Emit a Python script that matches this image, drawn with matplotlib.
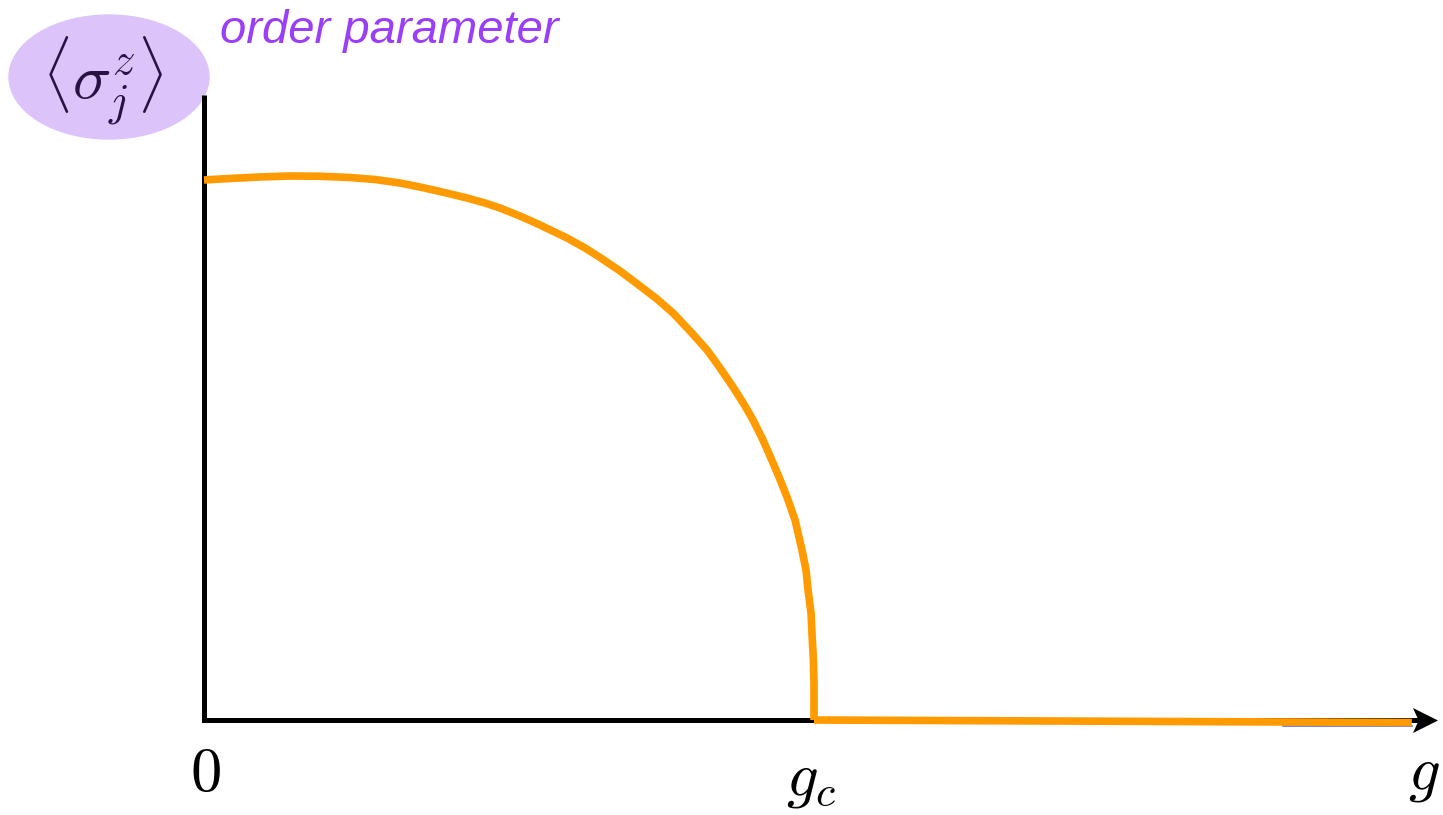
import numpy as np
import matplotlib
matplotlib.use('Agg')
import matplotlib.pyplot as plt
from matplotlib.patches import Ellipse
from matplotlib.path import Path

plt.rcParams['mathtext.fontset'] = 'cm'

# order parameter vs coupling g (g in units of g_c, <sigma_j^z> normalised to 1 at g = 0)
g_ordered = [0.0, 0.0426, 0.0918, 0.1410, 0.1902, 0.2393, 0.2803, 0.3213, 0.3541,
             0.3869, 0.4311, 0.4607, 0.4852, 0.5180, 0.5508, 0.5951, 0.6246, 0.6492,
             0.6820, 0.7148, 0.7426, 0.7689, 0.7967, 0.8246, 0.8459, 0.8672, 0.8869,
             0.9000, 0.9148, 0.9279, 0.9426, 0.9557, 0.9689, 0.9803, 0.9869, 0.9902,
             0.9951, 0.997, 0.999, 1.0, 1.0, 1.0]
m_ordered = [1.0, 1.0028, 1.0056, 1.0074, 1.0069, 1.0046, 1.0009, 0.9944, 0.9870,
             0.9787, 0.9667, 0.9574, 0.9481, 0.9333, 0.9167, 0.8926, 0.8741, 0.8565,
             0.8315, 0.8037, 0.7796, 0.7537, 0.7204, 0.6852, 0.6519, 0.6167, 0.5815,
             0.5556, 0.5222, 0.4889, 0.4500, 0.4130, 0.3704, 0.3148, 0.2778, 0.2407,
             0.1981, 0.1537, 0.1111, 0.0685, 0.0370, 0.0]
g_disordered = [1.0, 1.980]
m_disordered = [0.0, -0.0046]
g_blue = [1.769, 1.980]
m_blue = [-0.011, -0.011]

fig = plt.figure(figsize=(14.43, 8.15), dpi=100)
ax = fig.add_axes([0, 0, 1, 1])
ax.set_xlim(-0.3344, 2.0311)
ax.set_ylim(-0.1759, 1.3333)
ax.axis('off')

# label bubble
ax.add_patch(Ellipse((-0.1557, 1.1907), 0.3279, 0.2296, color='#DCC4FA', zorder=1))

# axes with arrow head
ax.plot([0, 0, 1.9934], [1.1574, 0, 0], color='black', lw=3.6,
        solid_joinstyle='miter', solid_capstyle='butt', zorder=2)
head = Path([(1, 0), (-1, 1), (-0.55, 0), (-1, -1), (1, 0)],
            [Path.MOVETO, Path.LINETO, Path.LINETO, Path.LINETO, Path.CLOSEPOLY])
ax.plot([2.0008], [0], marker=head, markersize=18, color='black',
        markeredgewidth=0, zorder=3)

ax.plot(g_blue, m_blue, color='#5B6EE1', lw=1.2, zorder=3)
ax.plot(g_ordered, m_ordered, color='#FF9A00', lw=5.5, solid_capstyle='butt',
        solid_joinstyle='round', zorder=4)
ax.plot(g_disordered, m_disordered, color='#FF9A00', lw=5.5, solid_capstyle='butt',
        zorder=4)

ax.text(-0.167, 1.185, r'$\langle\sigma_j^z\rangle$', fontsize=46,
        color='#2A1142', ha='center', va='center', zorder=5)
ax.text(0.026, 1.2537, 'order parameter', fontsize=34, style='italic',
        family='Liberation Sans', color='#9B3FF7', ha='left', va='baseline')
ax.text(0.0016, -0.1315, r'$0$', fontsize=45, ha='center', va='baseline')
ax.text(0.995, -0.1407, r'$g_c$', fontsize=45, ha='center', va='baseline')
ax.text(2.0, -0.1278, r'$g$', fontsize=45, ha='center', va='baseline')

fig.savefig('out.png', dpi=100)
